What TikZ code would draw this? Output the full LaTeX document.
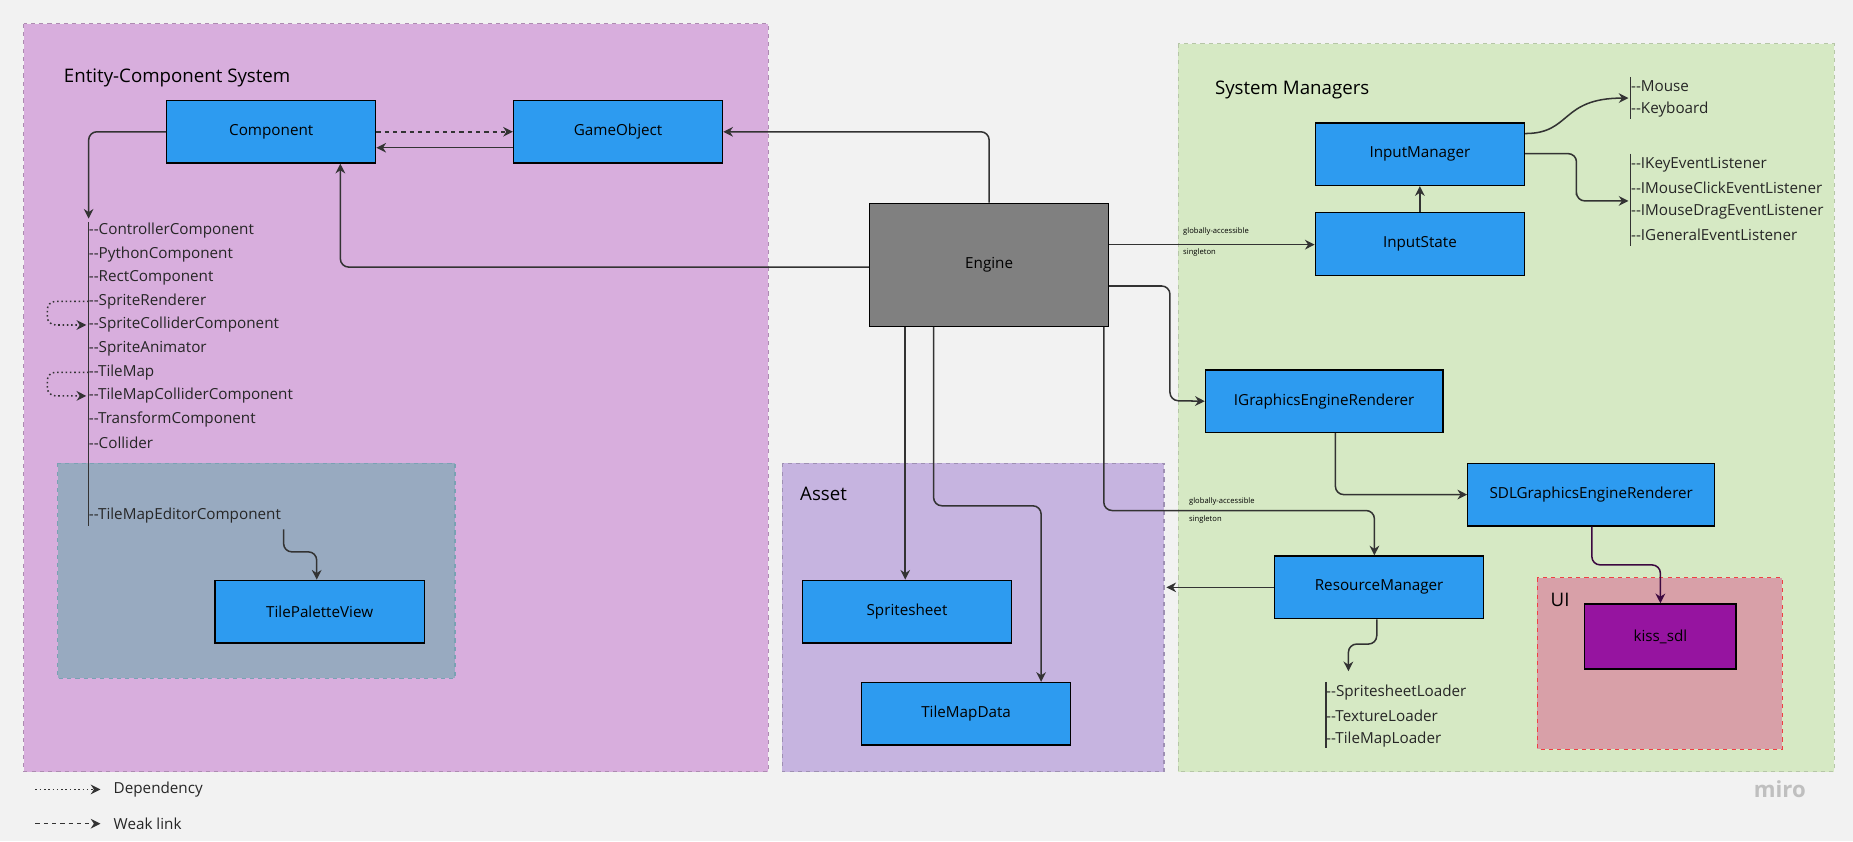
\documentclass[tikz,border=0pt]{standalone}
\usepackage{fontspec}
\setmainfont{Open Sans}
\usetikzlibrary{arrows.meta,positioning}

\definecolor{bgc}{RGB}{242,242,242}
\definecolor{ecsc}{RGB}{216,174,221}
\definecolor{tilec}{RGB}{152,170,192}
\definecolor{assetc}{RGB}{198,180,224}
\definecolor{sysc}{RGB}{214,233,196}
\definecolor{uic}{RGB}{216,160,168}
\definecolor{boxc}{RGB}{45,155,240}
\definecolor{kissc}{RGB}{150,20,160}
\definecolor{linec}{RGB}{51,51,51}

\begin{document}
\begin{tikzpicture}[x=0.3mm,y=-0.3mm,>={Stealth[length=7pt,width=7pt]},
  cls/.style={draw=black,line width=0.9pt,fill=boxc,minimum width=53.1mm,minimum height=15.9mm,font=\fontsize{11}{13}\selectfont},
  region/.style={dashed,line width=0.8pt},
  conn/.style={->,draw=linec,line width=1.1pt,rounded corners=6pt},
  item/.style={anchor=west,inner sep=0pt,font=\fontsize{11}{13}\selectfont,text=black!85},
  small/.style={anchor=west,align=left,inner sep=0pt,font=\fontsize{5.5}{7}\selectfont}]
  \fill[bgc] (0,0) rectangle (1568,712);
  \useasboundingbox (0,0) rectangle (1568,712);

  % regions
  \filldraw[region,fill=ecsc,draw=ecsc!80!black] (20,20) rectangle (650,653);
  \filldraw[region,fill=tilec,draw=tilec!80!teal] (49,392) rectangle (385,574);
  \filldraw[region,fill=assetc,draw=assetc!80!black] (662,392) rectangle (985,653);
  \filldraw[region,fill=sysc,draw=sysc!85!black] (997,37) rectangle (1552,653);
  \filldraw[region,fill=uic,draw=red!60!uic] (1301,489) rectangle (1508,634);
  \node[anchor=west,font=\fontsize{13.5}{15}\selectfont] at (50,66) {Entity-Component System};
  \node[anchor=west,font=\fontsize{13.5}{15}\selectfont] at (673,418) {Asset};
  \node[anchor=west,font=\fontsize{13.5}{15}\selectfont] at (1024,76) {System Managers};
  \node[anchor=west,font=\fontsize{13.5}{15}\selectfont] at (1308,508) {UI};

  % classes
  \node[cls] (comp) at (229.5,111.5) {Component};
  \node[cls] (gobj) at (523,111.5) {GameObject};
  \node[cls] (tpv) at (270.5,517.5) {TilePaletteView};
  \node[cls] (sheet) at (767.5,517.5) {Spritesheet};
  \node[cls] (tmd) at (817.5,604) {TileMapData};
  \node[cls,fill=gray!100!black,fill=black!50,minimum width=60.6mm,minimum height=31.2mm] (engine) at (837,224) {Engine};
  \node[cls] (inmgr) at (1201.5,130.5) {InputManager};
  \node[cls] (instate) at (1201.5,206.5) {InputState};
  \node[cls,minimum width=60.3mm] (iger) at (1120.5,339.5) {IGraphicsEngineRenderer};
  \node[cls,minimum width=62.7mm] (sdl) at (1346.5,418.5) {SDLGraphicsEngineRenderer};
  \node[cls] (resmgr) at (1167,497) {ResourceManager};
  \node[cls,fill=kissc,minimum width=38.4mm,minimum height=16.5mm] (kiss) at (1405,538.5) {kiss\_sdl};

  % lists
  \coordinate (ecsTop) at (75,185);
  \draw[linec,line width=0.8pt] (75,188) -- (75,445);
  \foreach \y/\t in {195/ControllerComponent,215/PythonComponent,235/RectComponent,
    255/SpriteRenderer,275/SpriteColliderComponent,295/SpriteAnimator,315/TileMap,
    335/TileMapColliderComponent,355/TransformComponent,375/Collider,436/TileMapEditorComponent}
    \node[item] at (75,\y) {-{}-\t};
  \coordinate (mouseTop) at (1378,83);
  \draw[linec,line width=0.8pt] (1380,65) -- (1380,101);
  \foreach \y/\t in {73/Mouse,93/Keyboard} \node[item] at (1380,\y) {-{}-\t};
  \coordinate (lisTop) at (1378,170);
  \draw[linec,line width=0.8pt] (1380,130) -- (1380,208);
  \foreach \y/\t in {139/IKeyEventListener,159/IMouseClickEventListener,179/IMouseDragEventListener,199/IGeneralEventListener}
    \node[item] at (1380,\y) {-{}-\t};
  \coordinate (ldrTop) at (1141,568);
  \draw[linec,line width=0.8pt] (1122,577) -- (1122,633);
  \foreach \y/\t in {586/SpritesheetLoader,606/TextureLoader,626/TileMapLoader}
    \node[item] at (1122,\y) {-{}-\t};

  % connectors
  \draw[conn] (comp.west) -| (ecsTop);
  \draw[conn,dashed] (comp.east) -- (gobj.west);
  \draw[conn] (gobj.west |- 0,125) -- (comp.east |- 0,125);
  \draw[conn] (engine.north -| 837,0) |- (gobj.east);
  \draw[conn] (engine.west |- 0,226) -| (comp.south -| 288,0);
  \draw[conn] (engine.east |- 0,207) -- (instate.west |- 0,207);
  \node[small] at (1001,196) {globally-accessible};
  \node[small] at (1001,214) {singleton};
  \draw[conn] (instate.north) -- (inmgr.south);
  \draw[conn] (inmgr.east |- 0,113) .. controls (1330,113) and (1320,83) .. (mouseTop);
  \draw[conn] (inmgr.east |- 0,130) -| (1334,158) |- (lisTop);
  \draw[conn] (engine.east |- 0,242) -| (990,339) -- (iger.west);
  \draw[conn] (iger.south -| 1130,0) |- (sdl.west);
  \draw[conn,draw=black!60!kissc] (sdl.south -| 1347,0) |- (1405,478) -- (kiss.north);
  \draw[conn] (engine.south -| 934,0) |- (1163,432) -- (resmgr.north -| 1163,0);
  \node[small] at (1006,424) {globally-accessible};
  \node[small] at (1006,440) {singleton};
  \draw[conn] (resmgr.west) -- (987,497);
  \draw[conn] (resmgr.south -| 1165,0) |- (1141,545) -- (ldrTop);
  \draw[conn] (engine.south -| 766,0) -- (sheet.north -| 766,0);
  \draw[conn] (engine.south -| 790,0) |- (881,428) -- (tmd.north -| 881,0);
  \draw[conn] (240,448) |- (268,467) -- (tpv.north -| 268,0);
  \draw[conn,dotted] (75,255) -| (40,275) -- (73,275);
  \draw[conn,dotted] (75,315) -| (40,335) -- (73,335);

  % legend
  \coordinate (l1a) at (30,668); \coordinate (l1b) at (85,668);
  \coordinate (l2a) at (30,697); \coordinate (l2b) at (85,697);
  \draw[conn,dotted] (l1a) -- (l1b);
  \draw[conn,dashed] (l2a) -- (l2b);
  \node[item] at (96,668) {Dependency};
  \node[item] at (96,697) {Weak link};
  \node[anchor=west,text=black!25,font=\fontsize{16}{18}\selectfont\bfseries] at (1480,668) {miro};
\end{tikzpicture}
\end{document}
